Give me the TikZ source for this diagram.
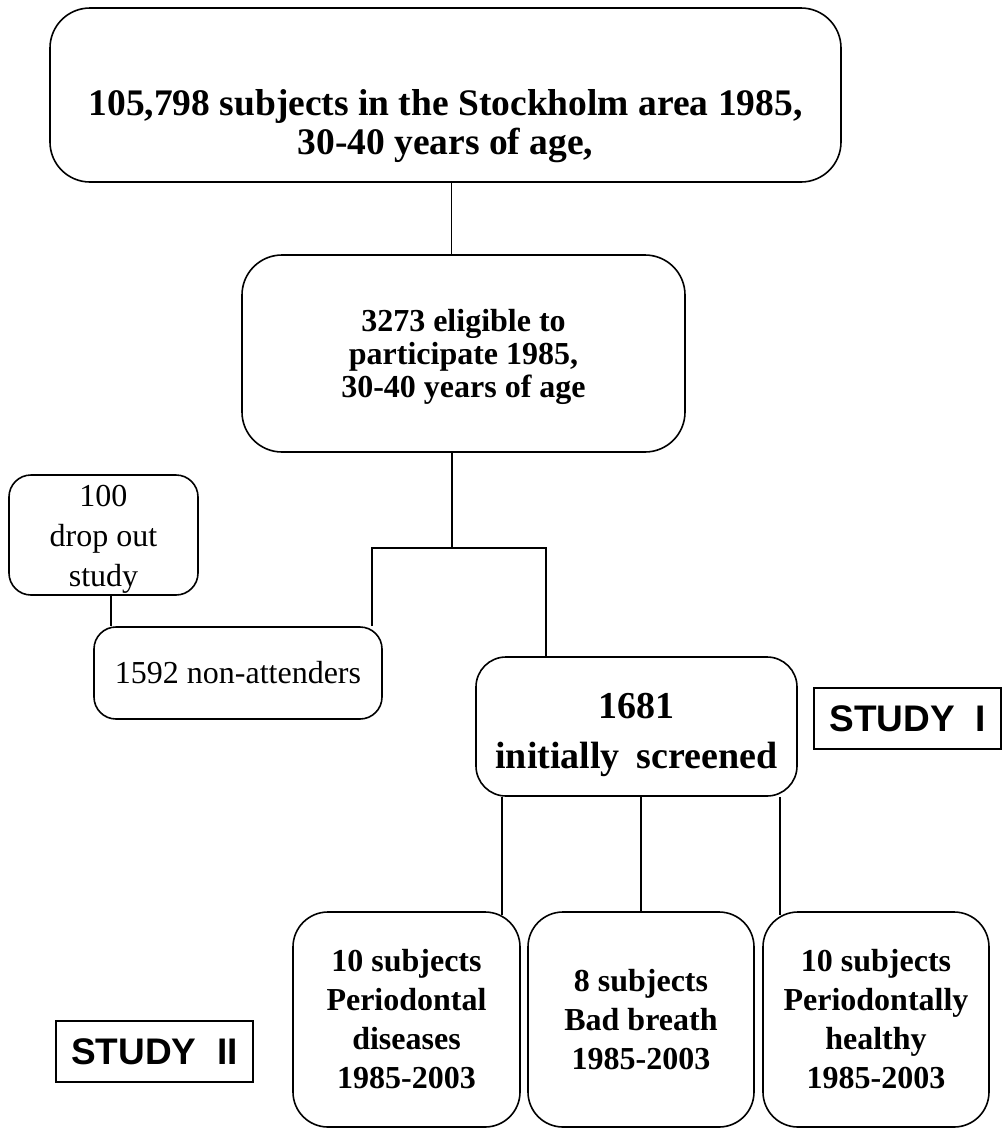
\documentclass[tikz,border=0pt]{standalone}
\usepackage{fontspec}
\setmainfont{Liberation Serif}
\newfontfamily\studyfont{Liberation Sans}
\begin{document}
\begin{tikzpicture}[x=1pt,y=-1pt,
  rbox/.style={draw, line width=1.6pt, rounded corners=#1, inner sep=0pt, align=center},
  rbox/.default=30pt,
  sbox/.style={draw, line width=1.3pt, inner sep=0pt, align=center,
    font=\studyfont\bfseries\fontsize{37}{40}\selectfont},
  conn/.style={line width=1.3pt},
  bottomtxt/.style={font=\bfseries\fontsize{32}{39}\selectfont}
]
\useasboundingbox (0,0) rectangle (1004,1128);

% boxes
\node[rbox=40pt, minimum width=791pt, minimum height=174pt] (top) at (445.5,95) {};
\node[inner sep=0pt, align=center, font=\bfseries\fontsize{37.5}{39}\selectfont] (toptext) at (445.5,126)
  {105,798 subjects in the Stockholm area 1985,\\30-40 years of age,};

\node[rbox=40pt, minimum width=443pt, minimum height=197pt,
  font=\bfseries\fontsize{32}{33}\selectfont] (elig) at (463.5,353.5)
  {\rule{0pt}{30pt}3273 eligible to\\participate 1985,\\30-40 years of age};

\node[rbox=22pt, minimum width=189pt, minimum height=120pt,
  font=\fontsize{32}{40}\selectfont] (drop) at (103.5,535)
  {\rule{0pt}{30pt}100\\drop out\\study};

\node[rbox=22pt, minimum width=288pt, minimum height=92pt,
  font=\fontsize{32}{38}\selectfont] (non) at (238,673)
  {1592 non-attenders};

\node[rbox=30pt, minimum width=321pt, minimum height=139pt,
  font=\bfseries\fontsize{38}{50}\selectfont] (scr) at (636.5,726.5)
  {\rule{0pt}{42pt}1681\\initially\hspace{0.45em}screened};

\node[sbox, minimum width=187pt, minimum height=61pt] (s1) at (907.5,718.5) {STUDY\ \ I};
\node[sbox, minimum width=197pt, minimum height=61pt] (s2) at (154.5,1051.5) {STUDY\ \ II};

\node[rbox=35pt, minimum width=227pt, minimum height=215pt, bottomtxt] (lb) at (406.5,1019.5)
  {10 subjects\\Periodontal\\diseases\\1985-2003};
\node[rbox=35pt, minimum width=226pt, minimum height=215pt, bottomtxt] (mb) at (641,1019.5)
  {8 subjects\\Bad breath\\1985-2003};
\node[rbox=35pt, minimum width=226pt, minimum height=215pt, bottomtxt] (rb) at (876,1019.5)
  {10 subjects\\Periodontally\\healthy\\1985-2003};

% connector positions
\coordinate (xA) at (451.5,0);
\coordinate (split) at (452,548);
\coordinate (splitL) at (372,548);
\coordinate (splitR) at (546,548);
\coordinate (xD) at (111,0);
\coordinate (xL) at (502,0);
\coordinate (xM) at (641,0);
\coordinate (xR) at (780,0);

% connectors
\draw[conn] (top.south -| xA) -- (elig.north -| xA);
\draw[conn] (elig.south -| split) -- (split);
\draw[conn] (non.north -| splitL) -- (splitL) -- (splitR) -- (scr.north -| splitR);
\draw[conn] (drop.south -| xD) -- (non.north -| xD);
\draw[conn, shorten >=-4pt] (scr.south -| xL) -- (lb.north -| xL);
\draw[conn] (scr.south -| xM) -- (mb.north -| xM);
\draw[conn, shorten >=-4pt] (scr.south -| xR) -- (rb.north -| xR);
\end{tikzpicture}
\end{document}
